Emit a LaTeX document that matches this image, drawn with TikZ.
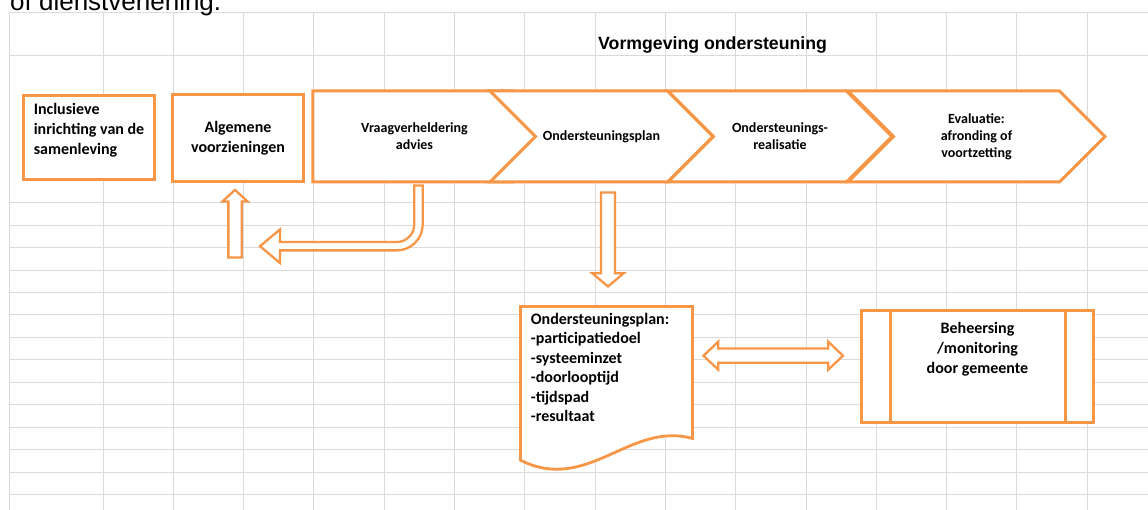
\documentclass[tikz,border=0pt]{standalone}
\usepackage{fontspec}
\setmainfont{Carlito}
\newfontfamily\arialfont{Liberation Sans}
\usepackage{tikz}
\usetikzlibrary{shapes.symbols,shapes.arrows,positioning,calc}
\definecolor{xlOrange}{RGB}{247,150,70}
\definecolor{xlGrid}{RGB}{218,218,218}
\tikzset{
    xlBox/.style={
        rectangle,
        draw=xlOrange,
        line width=3pt,
        fill=white,
        inner sep=0pt,
        outer sep=0pt,
        align=center,
        font=\fontsize{16}{20}\selectfont\bfseries
    },
    xlChev/.style={
        signal,
        signal to=east,
        signal pointer angle=90,
        draw=xlOrange,
        line width=3pt,
        fill=white,
        inner sep=0pt,
        minimum height=91,
        align=center,
        font=\fontsize{14}{17}\selectfont\bfseries
    },
    xlText/.style={align=left, inner sep=0pt, font=\fontsize{16}{20.3}\selectfont\bfseries},
    % block arrows
    xlArrow/.style={draw=xlOrange, line width=2.3pt, fill=white, inner xsep=0pt, outer sep=0pt},
    xlLine/.style={draw=xlOrange, line width=3pt}
}

\begin{document}
\begin{tikzpicture}[x=1pt, y=-1pt]
\useasboundingbox (0,0) rectangle (1148,510);
\clip (0,0) rectangle (1148,510);
\fill[white] (0,0) rectangle (1148,510);

% sheet grid
\foreach \gx in {9.3,103} \draw[xlGrid, line width=1pt] (\gx,12.7) -- (\gx,510);
\foreach \i in {0,...,13} \draw[xlGrid, line width=1pt] (173.3+70.3*\i,12.7) -- (173.3+70.3*\i,510);
\foreach \gy in {12.7,56} \draw[xlGrid, line width=1pt] (9.3,\gy) -- (1148,\gy);
\foreach \i in {0,...,13} \draw[xlGrid, line width=1pt] (9.3,202.7+22.45*\i) -- (1148,202.7+22.45*\i);

\node[font=\arialfont\fontsize{26}{30}\selectfont, anchor=base west, inner sep=0pt] (intro) at (10,11) {of dienstverlening.};
\node[font=\fontsize{17.7}{21}\selectfont\arialfont\bfseries, anchor=west, inner sep=0pt] (title) at (598,45) {Vormgeving ondersteuning};

\node[xlBox, minimum width=131, minimum height=83.7,
      label={[xlText, yshift=7]center:{Inclusieve\\inrichting van de\\samenleving}}] (incl) at (89,137.4) {};
\node[xlBox, minimum width=131, minimum height=86.7] (alg) at (238,137.9) {Algemene\\voorzieningen};

\node[xlChev, minimum width=246,
      label={[align=center, inner sep=0pt, font=\fontsize{14}{17}\selectfont\bfseries, xshift=1.5]center:{Vraagverheldering\\advies}}] (vraag) at (413,136.5) {};
\node[xlChev, signal from=west, minimum width=223] (plan) at (601.5,136.5) {Ondersteuningsplan};
\node[xlChev, signal from=west, minimum width=224] (real) at (780,136.5) {Ondersteunings-\\realisatie};
\node[xlChev, signal from=west, minimum width=257] (eval) at (976.5,136.5) {Evaluatie:\\afronding of\\voortzetting};

% terugverwijzing
\draw[xlArrow] (414.3,185.5) -- (422.7,185.5) -- (422.7,224.4)
    .. controls (422.7,238.76) and (411.06,250.4) .. (396.7,250.4)
    -- (280,250.4) -- (280,263) -- (260,246.2) -- (280,229.4) -- (280,242) -- (396.7,242)
    .. controls (406.42,242) and (414.3,234.12) .. (414.3,224.4) -- cycle;
\node[xlArrow, single arrow, rotate=90, minimum height=67.5, minimum width=23, inner ysep=5.5,
      single arrow head extend=6, single arrow tip angle=95] (upArr) at (235,226.75) {};
\node[xlArrow, single arrow, rotate=-90, minimum height=94, minimum width=29, inner ysep=5.9,
      single arrow head extend=8.6, single arrow tip angle=100] (downArr) at (608,236.5) {};

% document
\draw[xlLine, line width=2.8pt, fill=white] (520.5,306.5) -- (692.5,306.5) -- (692.5,438.5)
    .. controls (630.4,420.8) and (587.4,494.0) .. (520.5,460.2) -- cycle;
\node[xlText, font=\fontsize{16}{19.4}\selectfont\bfseries, anchor=north west] (doc) at (530.7,313)
    {Ondersteuningsplan:\\-participatiedoel\\-systeeminzet\\-doorlooptijd\\-tijdspad\\-resultaat};

\node[xlArrow, double arrow, minimum height=139.5, minimum width=25.6, inner ysep=6,
      double arrow head extend=6.8, double arrow tip angle=87] (bothArr) at (773.25,355.7) {};

\node[xlBox, minimum width=232, minimum height=112,
      label={[align=center, inner sep=0pt, font=\fontsize{16}{20}\selectfont\bfseries, yshift=17.5]center:{Beheersing\\/monitoring\\door gemeente}}] (beh) at (977.5,366.5) {};
\draw[xlLine] ([xshift=28.5pt]beh.north west) -- ([xshift=28.5pt]beh.south west);
\draw[xlLine] ([xshift=-28pt]beh.north east) -- ([xshift=-28pt]beh.south east);
\end{tikzpicture}
\end{document}
